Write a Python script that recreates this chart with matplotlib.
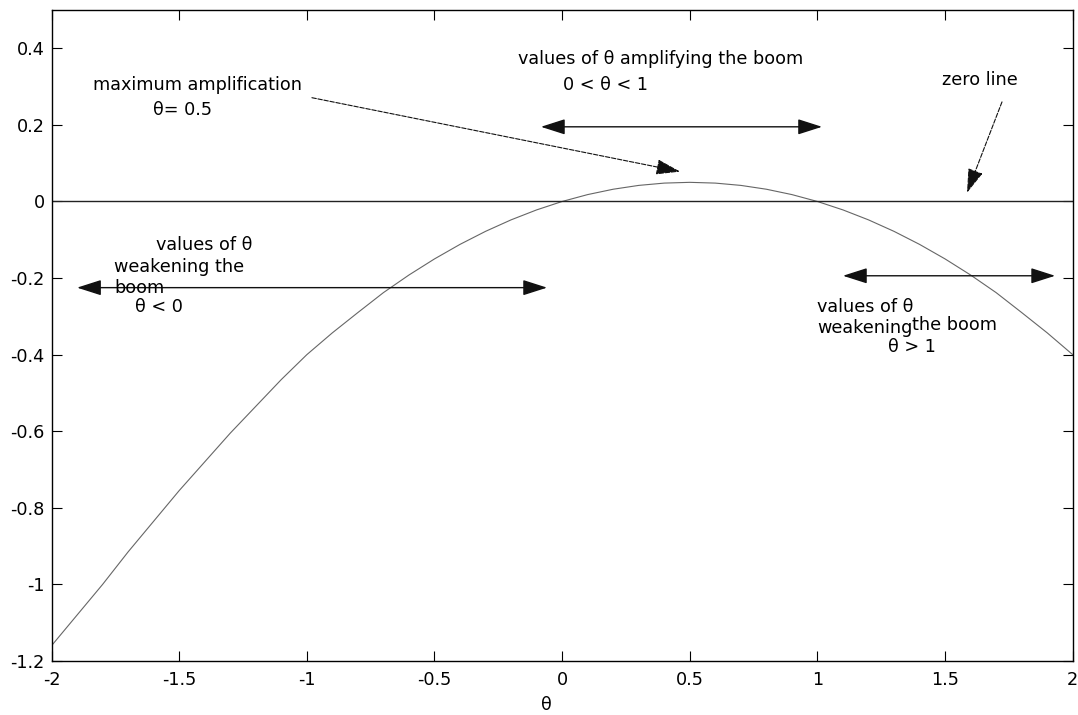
import numpy as np
import matplotlib
matplotlib.use("Agg")
import matplotlib.pyplot as plt

# values
theta = [-2.0, -1.9, -1.8, -1.7, -1.6, -1.5, -1.4, -1.3, -1.2, -1.1, -1.0,
         -0.9, -0.8, -0.7, -0.6, -0.5, -0.4, -0.3, -0.2, -0.1, 0.0,
         0.1, 0.2, 0.3, 0.4, 0.5, 0.6, 0.7, 0.8, 0.9, 1.0,
         1.1, 1.2, 1.3, 1.4, 1.5, 1.6, 1.7, 1.8, 1.9, 2.0]
amp = [-1.16, -1.08, -1.0, -0.915, -0.835, -0.755, -0.68, -0.605, -0.535, -0.465, -0.40,
       -0.343, -0.29, -0.238, -0.192, -0.15, -0.112, -0.078, -0.048, -0.022, 0.0,
       0.018, 0.032, 0.042, 0.048, 0.05, 0.048, 0.042, 0.032, 0.018, 0.0,
       -0.022, -0.048, -0.078, -0.112, -0.15, -0.192, -0.238, -0.29, -0.343, -0.40]

xticks = [-2, -1.5, -1, -0.5, 0, 0.5, 1, 1.5, 2]
xticklabels = ["-2", "-1.5", "-1", "-0.5", "0", "0.5", "1", "1.5", "2"]
yticks = [-1.2, -1, -0.8, -0.6, -0.4, -0.2, 0, 0.2, 0.4]
yticklabels = ["-1.2", "-1", "-0.8", "-0.6", "-0.4", "-0.2", "0", "0.2", "0.4"]

plt.rcParams['font.family'] = ['DejaVu Sans']
fs = 12.7

fig = plt.figure(figsize=(10.78, 7.15), dpi=100)
ax = fig.add_axes([0.0478, 0.0755, 0.9473, 0.9105])

ax.plot(theta, amp, color='#666666', lw=0.8)
ax.axhline(0, color='#222222', lw=1.0)

ax.set_xlim(-2, 2)
ax.set_ylim(-1.2, 0.5)
ax.set_xticks(xticks)
ax.set_xticklabels(xticklabels)
ax.set_yticks(yticks)
ax.set_yticklabels(yticklabels)
ax.tick_params(direction='in', length=7, width=0.8, top=True, right=True,
               labelsize=fs, colors='black')
ax.tick_params(axis='x', pad=7)
ax.tick_params(axis='y', pad=5)
for s in ax.spines.values():
    s.set_linewidth(1.0)
    s.set_color('black')

ax.set_xlabel("θ", fontsize=fs)
ax.xaxis.set_label_coords(0.485, -0.054)

# double arrows for the ranges
dbl = dict(arrowstyle='<|-|>,head_length=0.75,head_width=0.24', color='#111111',
           lw=1.0, shrinkA=0, shrinkB=0, mutation_scale=20)
ax.annotate('', xy=(1.018, 0.195), xytext=(-0.083, 0.195), arrowprops=dbl)
ax.annotate('', xy=(-0.059, -0.225), xytext=(-1.90, -0.225), arrowprops=dbl)
ax.annotate('', xy=(1.931, -0.194), xytext=(1.100, -0.194), arrowprops=dbl)

# pointer arrows
ptr = dict(arrowstyle='-|>,head_length=0.75,head_width=0.24', color='#111111',
           lw=0.8, linestyle=(0, (4, 1.5)), shrinkA=0, shrinkB=0, mutation_scale=20)
ax.annotate('', xy=(0.462, 0.078), xytext=(-0.980, 0.271), arrowprops=ptr)
ax.annotate('', xy=(1.586, 0.023), xytext=(1.723, 0.260), arrowprops=ptr)

# labels
kw = dict(fontsize=fs, ha='left', va='center')
ax.text(-1.837, 0.305, "maximum amplification", **kw)
ax.text(-1.602, 0.240, "θ= 0.5", **kw)
ax.text(-0.173, 0.373, "values of θ amplifying the boom", **kw)
ax.text(0.004, 0.305, "0 < θ < 1", **kw)
ax.text(1.488, 0.318, "zero line", **kw)

ax.text(-1.59, -0.113, "values of θ", **kw)
ax.text(-1.755, -0.171, "weakening the", **kw)
ax.text(-1.755, -0.225, "boom", **kw)
ax.text(-1.673, -0.275, "θ < 0", **kw)

ax.text(0.998, -0.275, "values of θ", **kw)
ax.text(0.998, -0.330, "weakening", **kw)
ax.text(1.370, -0.322, "the boom", **kw)
ax.text(1.276, -0.380, "θ > 1", **kw)

fig.savefig("out.png", dpi=100)
